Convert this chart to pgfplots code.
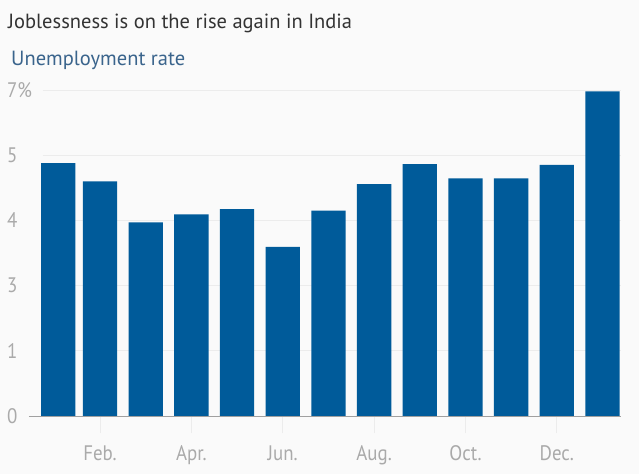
\documentclass[border=0pt]{standalone}
\usepackage{pgfplots}
\pgfplotsset{compat=1.18}
\usepackage{fontspec}
\setmainfont{PT Sans}
\newfontfamily\tickfont[FakeStretch=0.9]{PT Sans}
\definecolor{bg}{RGB}{250,250,250}
\definecolor{barc}{RGB}{0,91,154}
\definecolor{titlec}{RGB}{51,51,51}
\definecolor{subc}{RGB}{58,100,140}
\definecolor{tickc}{RGB}{170,170,170}
\definecolor{gridc}{RGB}{236,236,236}
\definecolor{zeroc}{RGB}{160,160,160}

\begin{document}
\begin{tikzpicture}[x=1pt,y=1pt]
  % page background, 639 x 474
  \fill[bg] (0,0) rectangle (639,474);
  \node[anchor=base west, inner sep=0pt, text=titlec, font=\fontsize{20.5}{24}\selectfont]
    at (8,445) {Joblessness is on the rise again in India};
  \node[anchor=base west, inner sep=0pt, text=subc, font=\fontsize{20.5}{24}\selectfont]
    at (11,408) {Unemployment rate};

  \begin{axis}[
    at={(43pt,58pt)}, anchor=south west,
    scale only axis,
    width=578pt, height=326pt,
    xmin=0.752, xmax=13.405,
    ymin=0, ymax=7,
    clip=false,
    axis line style={draw=none},
    ymajorgrids,
    grid style={gridc, line width=0.8pt},
    ytick={0,1.4,2.8,4.2,5.6,7},
    yticklabels={0,1,3,4,5,7\%},
    ytick style={draw=none},
    yticklabel style={anchor=west, inner sep=0pt, xshift=-19pt,
      text=tickc, font=\tickfont\fontsize{21}{24}\selectfont},
    xtick={2,4,6,8,10,12},
    xticklabels={Feb.,Apr.,Jun.,Aug.,Oct.,Dec.},
    xtick pos=lower,
    tick align=outside,
    major tick length=17pt,
    xtick style={draw=gridc, line width=0.8pt},
    xticklabel style={anchor=base, yshift=-27pt, text=tickc,
      font=\tickfont\fontsize{21}{24}\selectfont},
  ]
    \addplot[ybar, bar width=34.3pt, fill=barc, draw=none] coordinates {
      (1.085,5.43) (2,5.04) (3,4.16) (4,4.33) (5,4.44) (6,3.63) (7,4.41)
      (8,4.98) (9,5.41) (10,5.10) (11,5.10) (12,5.39) (13,6.97)
    };
    \draw[zeroc, line width=0.8pt] ([xshift=-14pt]axis cs:0.752,0) -- (axis cs:13.405,0);
  \end{axis}
\end{tikzpicture}
\end{document}
